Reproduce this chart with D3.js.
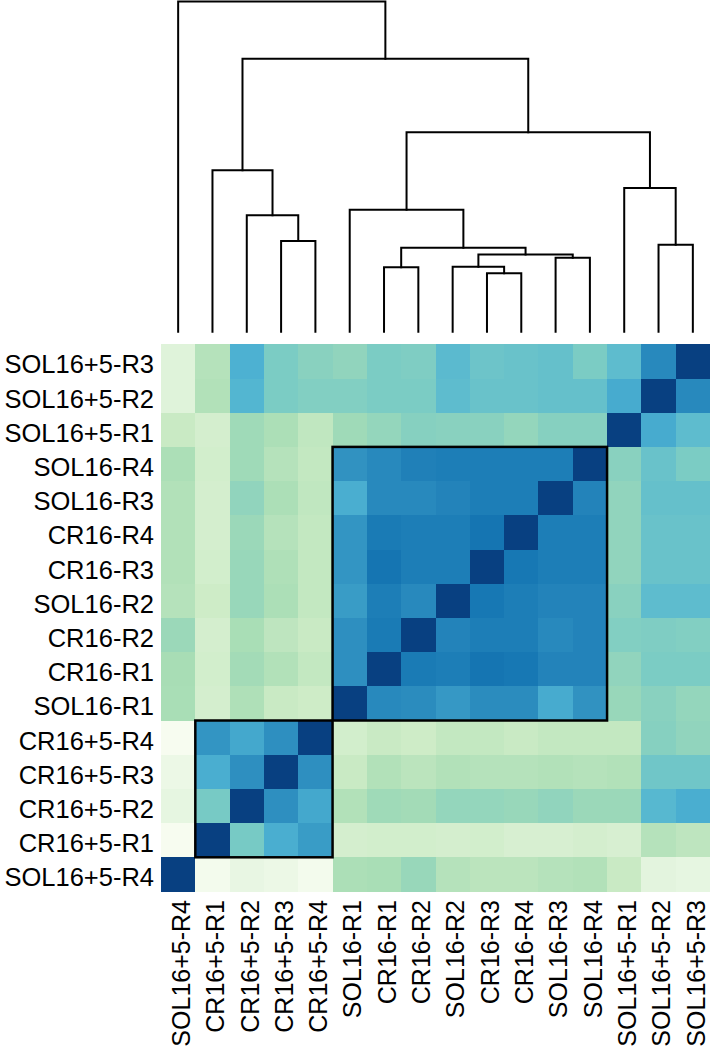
<!DOCTYPE html>
<html>
<head>
<meta charset="utf-8">
<script src="https://cdn.jsdelivr.net/npm/d3@7"></script>
<style>
  body { margin: 0; background: #fff; }
  text { font-family: "Liberation Sans", Arial, Helvetica, sans-serif; fill: #000; }
</style>
</head>
<body>
<div id="chart"></div>
<script>
// sizes of the whole picture
const width = 710
const height = 1050

// column order (left to right), rows are drawn in reverse (top to bottom)
const colLabels = ["SOL16+5-R4", "CR16+5-R1", "CR16+5-R2", "CR16+5-R3", "CR16+5-R4",
  "SOL16-R1", "CR16-R1", "CR16-R2", "SOL16-R2", "CR16-R3", "CR16-R4",
  "SOL16-R3", "SOL16-R4", "SOL16+5-R1", "SOL16+5-R2", "SOL16+5-R3"]
const rowLabels = colLabels.slice().reverse()

// similarity values, rows top to bottom, columns left to right
const values = [
  [.13, .33, .63, .50, .46, .44, .50, .49, .59, .54, .55, .56, .50, .58, .76, 1],
  [.13, .34, .61, .50, .48, .48, .50, .50, .58, .55, .55, .56, .56, .65, 1, .76],
  [.26, .20, .40, .36, .29, .40, .43, .47, .46, .46, .43, .47, .47, 1, .65, .58],
  [.36, .21, .40, .33, .28, .73, .76, .79, .80, .80, .80, .80, 1, .46, .55, .50],
  [.34, .20, .44, .36, .29, .64, .76, .76, .78, .80, .80, 1, .78, .44, .56, .56],
  [.34, .20, .41, .33, .28, .72, .81, .80, .80, .83, 1, .80, .80, .44, .55, .55],
  [.34, .21, .42, .35, .28, .72, .83, .80, .80, 1, .82, .80, .80, .44, .55, .55],
  [.33, .24, .42, .36, .28, .70, .80, .76, 1, .82, .80, .78, .78, .46, .58, .58],
  [.41, .20, .37, .30, .26, .74, .81, 1, .78, .80, .80, .76, .78, .48, .49, .48],
  [.375, .21, .39, .34, .28, .74, 1, .81, .80, .83, .82, .78, .78, .44, .50, .50],
  [.37, .20, .35, .26, .24, 1, .76, .75, .71, .75, .75, .65, .73, .42, .46, .43],
  [.00, .72, .66, .74, 1, .21, .26, .24, .28, .28, .26, .28, .28, .28, .47, .44],
  [.06, .64, .74, 1, .74, .26, .34, .31, .34, .33, .33, .34, .33, .34, .53, .53],
  [.09, .51, 1, .74, .66, .34, .40, .39, .43, .43, .42, .44, .41, .41, .60, .64],
  [.00, 1, .51, .64, .70, .20, .21, .21, .20, .21, .18, .18, .20, .18, .33, .30],
  [1, .02, .08, .06, .02, .36, .37, .42, .33, .31, .31, .33, .34, .26, .11, .09]
]

// dendrogram merges: [left, right, height]; strings are leaves, numbers point to earlier merges
const merges = [
  ["CR16-R3", "CR16-R4", .177],    // 0
  ["CR16-R1", "CR16-R2", .195],    // 1
  ["SOL16-R2", 0, .197],           // 2
  ["SOL16-R3", "SOL16-R4", .224],  // 3
  [2, 3, .234],                    // 4
  [1, 4, .254],                    // 5
  ["SOL16+5-R2", "SOL16+5-R3", .263], // 6
  ["CR16+5-R3", "CR16+5-R4", .275],   // 7
  ["CR16+5-R2", 7, .353],          // 8
  ["SOL16-R1", 5, .369],           // 9
  ["SOL16+5-R1", 6, .435],         // 10
  ["CR16+5-R1", 8, .489],          // 11
  [9, 10, .604],                   // 12
  [11, 12, .827],                  // 13
  ["SOL16+5-R4", 13, 1.0]          // 14
]

// clusters outlined with a black box
const boxes = [
  ["SOL16-R1", "SOL16-R4", "SOL16-R3", "SOL16-R2"],
  ["CR16+5-R1", "CR16+5-R4", "CR16+5-R3", "CR16+5-R2"]
]

const svg = d3.select("#chart").append("svg")
  .attr("width", width)
  .attr("height", height)

// heatmap scales
const x = d3.scaleBand().domain(colLabels).range([161, 710])
const y = d3.scaleBand().domain(rowLabels).range([344.3, 891.5])

const gnbu = d3.schemeGnBu[9]
const color = d3.scaleLinear()
  .domain(d3.range(9).map(i => i / 8))
  .range(gnbu)
  .interpolate(d3.interpolateRgb)

// cells
const cells = []
values.forEach((row, i) => {
  row.forEach((v, j) => {
    cells.push({row: rowLabels[i], col: colLabels[j], value: v})
  })
})

svg.append("g")
  .selectAll("rect")
  .data(cells)
  .enter()
  .append("rect")
  .attr("x", d => x(d.col))
  .attr("y", d => y(d.row))
  .attr("width", x.bandwidth() + 0.5)
  .attr("height", y.bandwidth() + 0.5)
  .attr("fill", d => color(d.value))
  .attr("shape-rendering", "crispEdges")

// cluster boxes
svg.append("g")
  .selectAll("rect")
  .data(boxes)
  .enter()
  .append("rect")
  .attr("x", d => d3.min(d, l => x(l)))
  .attr("y", d => d3.min(d, l => y(l)))
  .attr("width", d => d3.max(d, l => x(l)) + x.bandwidth() - d3.min(d, l => x(l)))
  .attr("height", d => d3.max(d, l => y(l)) + y.bandwidth() - d3.min(d, l => y(l)))
  .attr("fill", "none")
  .attr("stroke", "#000")
  .attr("stroke-width", 2.5)

// row labels
svg.append("g")
  .selectAll("text")
  .data(rowLabels)
  .enter()
  .append("text")
  .attr("x", 154)
  .attr("y", d => y(d) + y.bandwidth() / 2 + 3)
  .attr("dy", "0.35em")
  .attr("text-anchor", "end")
  .style("font-size", "25.5px")
  .text(d => d)

// column labels, turned upright
svg.append("g")
  .selectAll("text")
  .data(colLabels)
  .enter()
  .append("text")
  .attr("transform", d => "translate(" + (x(d) + x.bandwidth() / 2 + 3) + ",900) rotate(-90)")
  .attr("dy", "0.35em")
  .attr("text-anchor", "end")
  .style("font-size", "25px")
  .text(d => d)

// dendrogram
const hScale = d3.scaleLinear().domain([0, 1]).range([331.7, 1.5])
const nodes = []
function place(ref) {
  if (typeof ref === "string") return {x: x(ref) + x.bandwidth() / 2, y: hScale(0)}
  return nodes[ref]
}
const segs = []
merges.forEach(m => {
  const a = place(m[0]), b = place(m[1])
  const py = hScale(m[2])
  nodes.push({x: (a.x + b.x) / 2, y: py})
  segs.push([[a.x, a.y], [a.x, py], [b.x, py], [b.x, b.y]])
})

svg.append("g")
  .selectAll("path")
  .data(segs)
  .enter()
  .append("path")
  .attr("d", d3.line())
  .attr("fill", "none")
  .attr("stroke", "#000")
  .attr("stroke-width", 2)
  .attr("stroke-linejoin", "miter")
  .attr("stroke-linecap", "square")
</script>
</body>
</html>
